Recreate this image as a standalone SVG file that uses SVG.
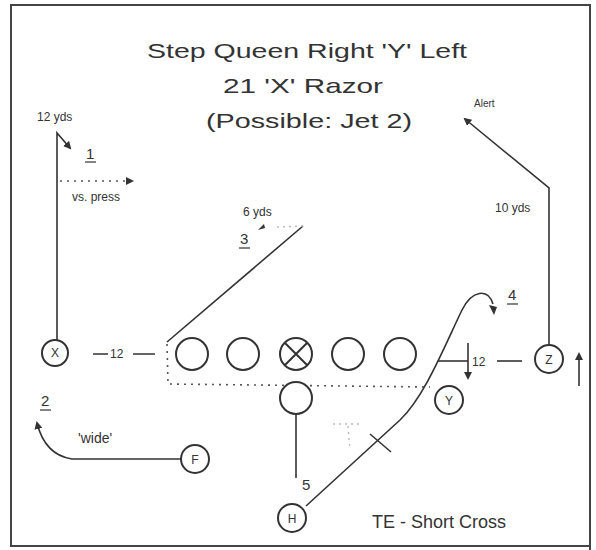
<svg xmlns="http://www.w3.org/2000/svg" width="596" height="550" viewBox="0 0 596 550">
<defs>
<style>
text{font-family:"Liberation Sans",Arial,sans-serif;fill:#333}
.title{font-size:21px}
.sm{font-size:12px}
.lab{font-size:15px}
.pl{fill:#fff;stroke:#333;stroke-width:2}
.ln{fill:none;stroke:#333;stroke-width:1.6}
.dot{fill:none;stroke:#555;stroke-width:1.6;stroke-dasharray:2 5}
.faint{fill:none;stroke:#bbb;stroke-width:1.4;stroke-dasharray:2 4}
</style>
<marker id="ah" markerWidth="8" markerHeight="8" refX="6" refY="4" orient="auto" markerUnits="userSpaceOnUse">
<path d="M0,0 L8,4 L0,8 z" fill="#333"/>
</marker>
</defs>
<rect x="0" y="0" width="596" height="550" fill="#fff"/>
<g id="frame">
<path d="M11,546 L11,5 L590,5 L590,550" fill="none" stroke="#444" stroke-width="2"/>
<line x1="10" y1="546" x2="590" y2="546" stroke="#444" stroke-width="2"/>
</g>
<g id="title">
<text class="title" x="307" y="58" text-anchor="middle" textLength="320" lengthAdjust="spacingAndGlyphs">Step Queen Right 'Y' Left</text>
<text class="title" x="303" y="93" text-anchor="middle" textLength="160" lengthAdjust="spacingAndGlyphs">21 'X' Razor</text>
<text class="title" x="309" y="128" text-anchor="middle" textLength="206" lengthAdjust="spacingAndGlyphs">(Possible: Jet 2)</text>
</g>
<g id="connectors">
<path class="ln" d="M57,340 L57,133 L70,148" marker-end="url(#ah)"/>
<path class="dot" d="M60,181 L128,181"/>
<path d="M126,177 L134,181 L126,185 z" fill="#333"/>
<path class="ln" d="M167,342 L303,226"/>
<path class="faint" d="M303,226 L275,227"/>
<path d="M265,228 L258,230 L264,224 z" fill="#333"/>
<path class="dot" d="M167,344 L168,384 L430,387"/>
<path class="ln" d="M296,414 L296,478"/>
<path class="faint" d="M333,424 L360,424 M348,426 L350,450"/>
<path class="ln" d="M306,506 L400,420 C425,396 445,345 462,310 C472,290 488,288 493,304"/>
<path d="M489,305 L497,307 L494,315 z" fill="#333"/>
<path class="ln" d="M370,434 L391,452"/>
<path class="ln" d="M549,346 L549,188 L465,119" marker-end="url(#ah)"/>
<path class="ln" d="M579,386 L579,354" marker-end="url(#ah)"/>
<path class="ln" d="M438,361 L468,361"/>
<path class="ln" d="M468,343 L468,378" marker-end="url(#ah)"/>
<path class="ln" d="M497,361 L522,361"/>
<path class="ln" d="M93,354 L108,354 M133,354 L155,354"/>
<path class="ln" d="M182,459 L72,459 Q45,455 37,423" marker-end="url(#ah)"/>
</g>
<g id="X"><circle class="pl" cx="55" cy="353" r="13"/><text class="sm" x="55" y="357" text-anchor="middle">X</text></g>
<g id="LT"><circle class="pl" cx="192" cy="354" r="16"/></g>
<g id="LG"><circle class="pl" cx="243" cy="354" r="16"/></g>
<g id="C"><circle class="pl" cx="296" cy="354" r="16"/><path class="ln" d="M285,343 L307,365 M307,343 L285,365" style="stroke-width:2"/></g>
<g id="RG"><circle class="pl" cx="348" cy="354" r="16"/></g>
<g id="RT"><circle class="pl" cx="400" cy="354" r="16"/></g>
<g id="QB"><circle class="pl" cx="296" cy="398" r="16"/></g>
<g id="Y"><circle class="pl" cx="449" cy="400" r="14"/><text class="sm" x="449" y="405" text-anchor="middle">Y</text></g>
<g id="Z"><circle class="pl" cx="549" cy="359" r="14"/><text class="sm" x="549" y="364" text-anchor="middle">Z</text></g>
<g id="F"><circle class="pl" cx="195" cy="459" r="14"/><text class="sm" x="195" y="464" text-anchor="middle">F</text></g>
<g id="H"><circle class="pl" cx="292" cy="518" r="14"/><text class="sm" x="292" y="523" text-anchor="middle">H</text></g>
<g id="labels">
<text class="sm" x="37" y="121">12 yds</text>
<text class="lab" x="86" y="159">1</text><line x1="85" y1="162" x2="96" y2="162" stroke="#333" stroke-width="1.2"/>
<text class="sm" x="72" y="201">vs. press</text>
<text class="sm" x="243" y="216">6 yds</text>
<text class="lab" x="240" y="244">3</text><line x1="239" y1="248" x2="250" y2="248" stroke="#333" stroke-width="1.2"/>
<text x="474" y="107" style="font-size:10px">Alert</text>
<text class="sm" x="495" y="212">10 yds</text>
<text class="lab" x="508" y="300">4</text><line x1="507" y1="304" x2="518" y2="304" stroke="#333" stroke-width="1.2"/>
<text class="sm" x="110" y="358">12</text>
<text class="sm" x="472" y="366">12</text>
<text class="lab" x="41" y="406">2</text><line x1="40" y1="410" x2="51" y2="410" stroke="#333" stroke-width="1.2"/>
<text x="78" y="443" style="font-size:14px">'wide'</text>
<text class="lab" x="302" y="490">5</text>
<text x="372" y="528" style="font-size:18px">TE - Short Cross</text>
</g>
</svg>
